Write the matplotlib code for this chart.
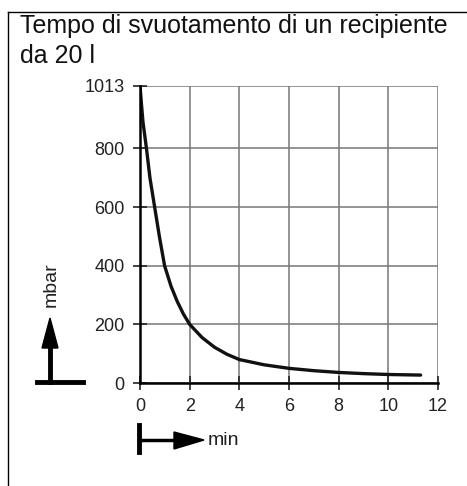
import matplotlib.pyplot as plt
from matplotlib.lines import Line2D
from matplotlib.patches import Polygon

plt.rcParams['font.family'] = ['Liberation Sans', 'DejaVu Sans']

# data (time in min, pressure in mbar)
t_min = [0, 0.05, 0.12, 0.26, 0.4, 0.59, 0.78, 0.99, 1.25, 1.5, 1.75, 2.0,
         2.5, 3.0, 3.5, 4.0, 5.0, 6.0, 7.0, 8.0, 9.0, 10.0, 11.3]
p_mbar = [1013, 960, 890, 800, 700, 600, 500, 400, 330, 278, 235, 200,
          155, 122, 98, 80, 62, 50, 42, 36, 32, 29, 27]
x_ticks = [0, 2, 4, 6, 8, 10, 12]
y_ticks = [0, 200, 400, 600, 800, 1013]
title = "Tempo di svuotamento di un recipiente\nda 20 l"

W, H = 467, 486
fig = plt.figure(figsize=(W / 100, H / 100), dpi=100)

def fx(px):
    return px / W

def fy(py):
    return 1 - py / H

# outer frame (top and left lines)
fig.add_artist(Line2D([fx(8), 1], [fy(12), fy(12)], color='black', lw=1.0))
fig.add_artist(Line2D([fx(8), fx(8)], [fy(12), 0], color='black', lw=1.0))

fig.text(fx(20), fy(14), title, ha='left', va='top', fontsize=18,
         linespacing=1.3, color='#111111')

ax = fig.add_axes([fx(140), fy(383), fx(438) - fx(140), fy(86) - fy(383)])
ax.plot(t_min, p_mbar, color='#111111', lw=2.4, solid_capstyle='round',
        solid_joinstyle='round')
ax.set_xlim(0, 12)
ax.set_ylim(0, 1013)
ax.set_xticks(x_ticks)
ax.set_yticks(y_ticks)
ax.grid(True, color='#777777', lw=1.1)
ax.set_axisbelow(True)
for s in ['top', 'right']:
    ax.spines[s].set_visible(False)
ax.spines['left'].set_linewidth(1.8)
ax.spines['bottom'].set_linewidth(1.8)
ax.tick_params(direction='inout', length=10, width=1.2, labelsize=13,
               colors='#222222', pad=6)

# y axis symbol: T-base, stem, arrowhead and "mbar"
fig.add_artist(Line2D([fx(37), fx(83)], [fy(382), fy(382)], color='black', lw=3.5))
fig.add_artist(Line2D([fx(50), fx(50)], [fy(382), fy(345)], color='black', lw=3.5))
fig.add_artist(Polygon([[fx(42), fy(348)], [fx(58), fy(348)], [fx(50), fy(318)]],
                       closed=True, color='black'))
fig.text(fx(51), fy(285), 'mbar', rotation=90, ha='center', va='center',
         fontsize=14, color='#222222')

# x axis symbol: bar, shaft, arrowhead and "min"
fig.add_artist(Line2D([fx(139), fx(139)], [fy(425), fy(452)], color='black', lw=3.5))
fig.add_artist(Line2D([fx(139), fx(180)], [fy(440), fy(440)], color='black', lw=2.5))
fig.add_artist(Polygon([[fx(174), fy(432)], [fx(174), fy(449)], [fx(204), fy(440)]],
                       closed=True, color='black'))
fig.text(fx(208), fy(440), 'min', ha='left', va='center', fontsize=14, color='#222222')

fig.savefig('out.png', dpi=100)
